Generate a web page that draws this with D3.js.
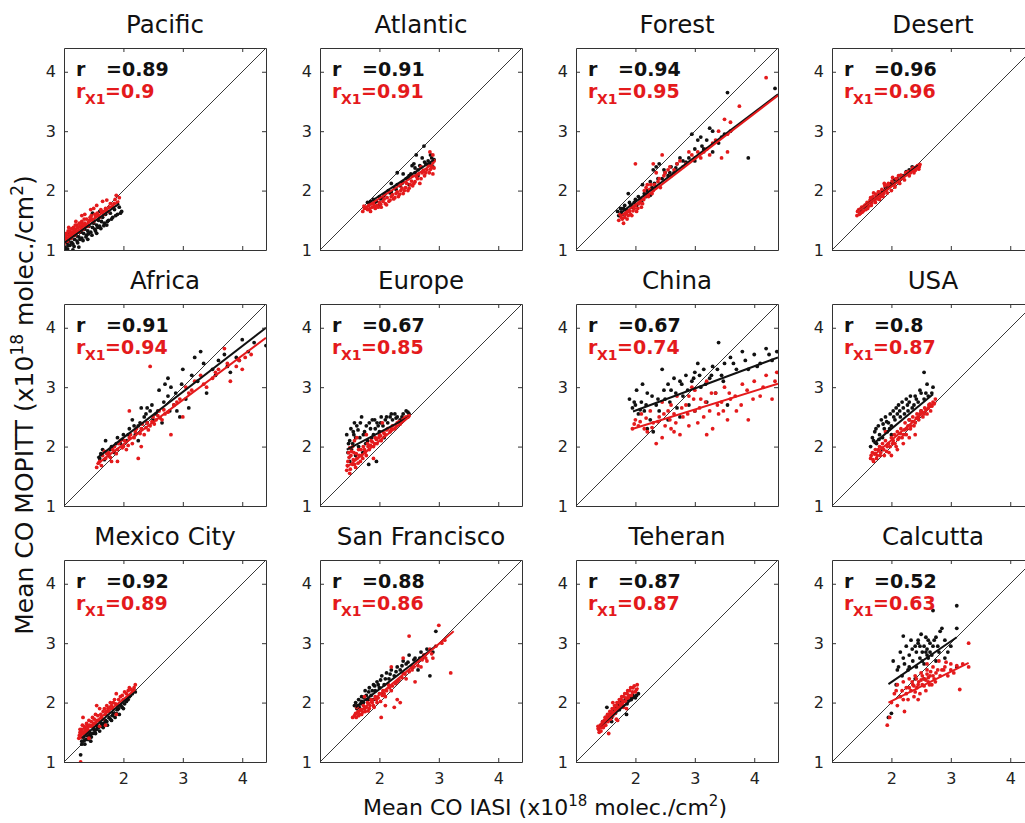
<!DOCTYPE html>
<html>
<head>
<meta charset="utf-8">
<script src="https://cdn.jsdelivr.net/npm/d3@7/dist/d3.min.js"></script>
<style>
  html, body { margin: 0; padding: 0; background: #fff; }
  svg { display: block; font-family: "DejaVu Sans", Verdana, sans-serif; }
</style>
</head>
<body>
<div id="chart"></div>
<script>
// ---------------- DATA ----------------
const regions = ["Pacific", "Atlantic", "Forest", "Desert",
                 "Africa", "Europe", "China", "USA",
                 "Mexico City", "San Francisco", "Teheran", "Calcutta"];
const rAll = ["0.89", "0.91", "0.94", "0.96", "0.91", "0.67", "0.67", "0.8", "0.92", "0.88", "0.87", "0.52"];
const rX1  = ["0.9", "0.91", "0.95", "0.96", "0.94", "0.85", "0.74", "0.87", "0.89", "0.86", "0.87", "0.63"];
const xTicks = [2, 3, 4];
const yTicks = [1, 2, 3, 4];
const axisDomain = [1, 4.4];

const pacificBlack = [[1.02,1.05],[1.05,1.12],[1.08,1.15],[1.1,1.08],[1.12,1.2],[1.15,1.1],[1.18,1.18],[1.2,1.25],[1.22,1.15],[1.25,1.22],[1.28,1.3],[1.3,1.2],[1.33,1.28],[1.35,1.35],[1.38,1.25],[1.4,1.32],[1.42,1.4],[1.45,1.3],[1.48,1.38],[1.5,1.45],[1.52,1.35],[1.55,1.42],[1.58,1.5],[1.6,1.4],[1.63,1.48],[1.65,1.55],[1.68,1.45],[1.7,1.6],[1.75,1.5],[1.78,1.62],[1.82,1.55],[1.85,1.68],[1.9,1.6],[1.95,1.62],[1.25,1.05],[1.4,1.18],[1.55,1.28],[1.72,1.42],[1.1,1.28],[1.3,1.4],[1.6,1.65],[1.48,1.62],
  [1.03,1.0],[1.07,1.08],[1.13,1.13],[1.17,1.06],[1.23,1.12],[1.27,1.18],[1.32,1.16],[1.37,1.22],[1.41,1.27],[1.47,1.25],[1.53,1.32],[1.57,1.38],[1.62,1.36],[1.67,1.41],[1.73,1.48],[1.8,1.52],[1.87,1.58],[1.93,1.72],[1.97,1.65],[1.15,1.0],[1.06,1.02]];
const pacificRed = [[1.0,1.1],[1.02,1.2],[1.04,1.28],[1.06,1.15],[1.08,1.25],[1.1,1.32],[1.12,1.2],[1.14,1.3],[1.16,1.38],[1.18,1.25],[1.2,1.35],[1.22,1.42],[1.25,1.3],[1.27,1.4],[1.3,1.48],[1.32,1.35],[1.35,1.45],[1.38,1.52],[1.4,1.4],[1.43,1.5],[1.46,1.58],[1.5,1.48],[1.53,1.56],[1.56,1.62],[1.6,1.55],[1.63,1.65],[1.67,1.6],[1.7,1.7],[1.74,1.65],[1.78,1.78],[1.82,1.72],[1.86,1.85],[1.9,1.8],[1.93,1.88],[1.35,1.6],[1.55,1.75],[1.45,1.68],[1.2,1.48],[1.08,1.38],[1.65,1.82],
  [1.01,1.14],[1.03,1.24],[1.05,1.19],[1.07,1.32],[1.09,1.22],[1.11,1.27],[1.13,1.36],[1.15,1.24],[1.17,1.33],[1.19,1.42],[1.21,1.29],[1.23,1.38],[1.26,1.45],[1.29,1.34],[1.31,1.43],[1.34,1.52],[1.37,1.4],[1.41,1.47],[1.44,1.55],[1.48,1.52],[1.52,1.6],[1.58,1.58],[1.62,1.68],[1.69,1.66],[1.76,1.72],[1.84,1.78],[1.88,1.92],[1.72,1.84],[1.5,1.7],[1.3,1.58]];

const atlanticBlack = [[1.8,1.8],[1.85,1.78],[1.9,1.85],[1.95,1.82],[2.0,1.9],[2.05,1.88],[2.1,1.95],[2.15,2.0],[2.2,1.98],[2.25,2.05],[2.3,2.1],[2.35,2.08],[2.4,2.15],[2.45,2.2],[2.5,2.25],[2.55,2.42],[2.58,2.45],[2.6,2.3],[2.65,2.35],[2.7,2.4],[2.75,2.75],[2.78,2.45],[2.82,2.5],[2.85,2.45],[2.88,2.55],[2.9,2.4],[2.3,2.3],[2.2,2.12],[2.4,2.28],[2.5,2.1],[2.65,2.25],[2.72,2.55],[2.0,1.75],[2.62,2.6],
  [1.85,1.82],[1.92,1.8],[2.02,1.86],[2.08,1.92],[2.18,1.96],[2.28,2.02],[2.38,2.12],[2.48,2.22],[2.53,2.28],[2.6,2.38],[2.68,2.42],[2.76,2.48],[2.86,2.6],[2.92,2.52]];
const atlanticRed = [[1.72,1.65],[1.75,1.7],[1.8,1.68],[1.82,1.75],[1.85,1.65],[1.88,1.72],[1.9,1.78],[1.93,1.7],[1.96,1.75],[2.0,1.8],[2.03,1.72],[2.06,1.82],[2.1,1.78],[2.13,1.88],[2.16,1.82],[2.2,1.9],[2.24,1.86],[2.28,1.95],[2.32,1.9],[2.36,2.0],[2.4,1.95],[2.44,2.05],[2.48,2.0],[2.52,2.1],[2.56,2.08],[2.6,2.15],[2.64,2.2],[2.68,2.12],[2.72,2.3],[2.76,2.25],[2.8,2.35],[2.84,2.3],[2.88,2.4],[2.9,2.28],[2.92,2.5],[2.9,2.6],[2.85,2.65],[2.7,2.4],[2.55,2.25],[2.35,2.1],
  [1.74,1.74],[1.78,1.72],[1.84,1.7],[1.87,1.78],[1.92,1.74],[1.98,1.72],[2.02,1.77],[2.08,1.86],[2.12,1.76],[2.18,1.84],[2.22,1.93],[2.26,1.88],[2.3,1.98],[2.34,1.94],[2.38,2.04],[2.42,2.0],[2.46,2.12],[2.5,2.04],[2.54,2.16],[2.58,2.12],[2.62,2.24],[2.66,2.28],[2.7,2.2],[2.74,2.34],[2.78,2.3],[2.82,2.42],[2.86,2.36],[2.92,2.38],[2.9,2.48]];

const forestBlack = [[1.7,1.65],[1.75,1.7],[1.78,1.6],[1.82,1.75],[1.85,1.68],[1.9,1.8],[1.95,1.72],[2.0,1.85],[2.05,1.9],[2.1,1.82],[2.15,1.95],[2.2,2.0],[2.25,1.92],[2.3,2.35],[2.35,2.4],[2.4,2.45],[2.45,2.2],[2.5,2.3],[2.55,2.25],[2.6,2.4],[2.65,2.3],[2.7,2.45],[2.8,2.5],[2.9,2.55],[2.95,2.95],[3.0,2.5],[3.05,2.85],[3.1,2.9],[3.15,2.7],[3.2,2.85],[3.25,3.05],[3.3,2.65],[3.4,2.8],[3.5,2.95],[3.55,3.65],[3.9,2.55],[4.35,3.72],[2.12,2.1],[1.88,1.95],[2.25,2.15],
  [1.72,1.58],[1.76,1.64],[1.8,1.7],[1.84,1.62],[1.92,1.76],[1.98,1.8],[2.02,1.75],[2.08,1.86],[2.18,1.9],[2.28,2.05],[2.32,2.12],[2.38,2.2],[2.48,2.35],[2.58,2.3],[2.68,2.38],[2.75,2.55],[2.85,2.48],[3.0,2.7],[3.12,2.75],[3.3,3.0],[3.45,2.9],[3.6,3.0]];
const forestRed = [[1.72,1.5],[1.76,1.55],[1.8,1.45],[1.83,1.6],[1.86,1.52],[1.9,1.65],[1.94,1.58],[1.98,1.7],[2.02,1.65],[2.06,1.78],[2.1,1.72],[2.14,1.85],[2.18,2.05],[2.22,1.9],[2.26,2.1],[2.3,2.0],[2.35,2.05],[2.4,2.2],[2.45,2.6],[2.5,2.3],[2.55,2.35],[2.6,2.25],[2.7,2.45],[2.8,2.4],[2.9,2.65],[2.95,2.6],[3.05,2.65],[3.1,2.55],[3.2,2.7],[3.3,2.8],[3.4,3.0],[3.45,2.55],[3.5,3.2],[3.55,2.65],[3.75,3.42],[4.2,3.9],[2.0,2.45],[2.35,2.3],[2.15,2.0],
  [1.74,1.6],[1.78,1.52],[1.82,1.55],[1.85,1.62],[1.88,1.58],[1.92,1.6],[1.96,1.66],[2.0,1.75],[2.04,1.7],[2.08,1.8],[2.12,1.78],[2.16,1.9],[2.2,1.95],[2.24,2.02],[2.28,1.95],[2.32,2.1],[2.38,2.15],[2.42,2.05],[2.48,2.25],[2.58,2.4],[2.65,2.35],[2.75,2.5],[2.85,2.45],[3.0,2.55],[3.15,2.65],[3.25,2.6],[3.35,2.85],[3.55,2.95],[3.6,3.15],[2.3,2.45],[2.2,2.1]];

const desertBlack = [[1.5,1.65],[1.6,1.75],[1.7,1.85],[1.8,1.95],[1.9,2.05],[2.0,2.12],[2.1,2.2],[2.2,2.25],[2.3,2.35],[2.4,2.38],[2.45,2.42],[2.05,2.18],
  [1.55,1.72],[1.65,1.8],[1.75,1.92],[1.85,2.0],[1.95,2.08],[2.15,2.25],[2.25,2.32],[2.35,2.4]];
const desertRed = [[1.42,1.58],[1.45,1.68],[1.48,1.62],[1.5,1.72],[1.53,1.66],[1.56,1.76],[1.6,1.7],[1.63,1.8],[1.66,1.75],[1.7,1.85],[1.73,1.8],[1.76,1.9],[1.8,1.85],[1.83,1.95],[1.86,1.9],[1.9,2.0],[1.93,1.96],[1.96,2.05],[2.0,2.0],[2.03,2.1],[2.06,2.06],[2.1,2.15],[2.14,2.12],[2.18,2.22],[2.22,2.18],[2.26,2.28],[2.3,2.25],[2.34,2.35],[2.38,2.3],[2.42,2.4],[2.46,2.36],[2.48,2.44],[1.65,1.88],[1.78,1.98],[1.95,2.12],[2.12,2.25],
  [1.43,1.65],[1.46,1.6],[1.49,1.7],[1.51,1.64],[1.54,1.74],[1.57,1.68],[1.59,1.8],[1.62,1.74],[1.64,1.84],[1.67,1.79],[1.69,1.9],[1.72,1.84],[1.74,1.94],[1.77,1.86],[1.79,1.98],[1.82,1.9],[1.84,2.02],[1.87,1.95],[1.89,2.08],[1.92,2.02],[1.94,2.1],[1.98,2.08],[2.01,2.16],[2.05,2.12],[2.08,2.2],[2.11,2.18],[2.16,2.26],[2.2,2.24],[2.24,2.3],[2.28,2.32],[2.32,2.3],[2.36,2.38],[2.4,2.34],[2.44,2.42],[2.47,2.4],[2.02,2.22],[1.88,2.12],[1.7,1.96]];

const africaBlack = [[1.6,1.8],[1.65,1.95],[1.7,2.1],[1.75,1.85],[1.8,2.0],[1.85,1.9],[1.9,2.15],[1.95,2.05],[2.0,2.2],[2.05,2.1],[2.1,2.3],[2.15,2.45],[2.2,2.2],[2.25,2.35],[2.3,2.65],[2.35,2.5],[2.4,2.4],[2.45,2.6],[2.5,2.45],[2.55,2.55],[2.6,2.95],[2.65,2.4],[2.7,3.05],[2.75,3.15],[2.8,3.0],[2.85,2.7],[2.9,2.6],[2.95,2.5],[3.0,3.3],[3.05,2.8],[3.1,2.65],[3.2,3.5],[3.25,3.1],[3.3,3.6],[3.4,2.9],[3.5,3.3],[3.6,3.45],[3.7,3.55],[3.8,3.25],[3.9,3.5],[4.0,3.8],[4.1,3.6],[4.4,3.7],[2.4,2.65],[2.75,2.85],[2.25,2.1],
  [1.62,1.88],[1.68,1.78],[1.78,1.95],[1.88,2.05],[1.98,2.12],[2.08,2.2],[2.18,2.35],[2.28,2.4],[2.38,2.55],[2.48,2.7],[2.58,2.6],[2.68,2.75],[2.78,2.6],[2.88,2.9],[2.98,3.05],[3.15,3.2],[3.35,3.4],[3.55,3.2],[3.75,3.35],[3.95,3.45],[4.2,3.75]];
const africaRed = [[1.55,1.65],[1.6,1.75],[1.65,1.85],[1.7,1.8],[1.75,1.9],[1.8,1.75],[1.85,2.0],[1.9,1.95],[1.95,2.1],[2.0,2.0],[2.05,1.95],[2.1,2.15],[2.15,2.05],[2.2,2.25],[2.25,1.8],[2.3,2.3],[2.35,2.2],[2.4,2.4],[2.45,2.35],[2.5,2.5],[2.55,2.45],[2.6,2.6],[2.65,2.45],[2.7,2.55],[2.8,2.2],[2.85,2.7],[2.9,2.75],[3.0,2.5],[3.05,3.0],[3.1,2.9],[3.2,3.1],[3.3,3.2],[3.4,3.0],[3.5,3.15],[3.6,3.3],[3.7,3.65],[3.8,3.1],[3.9,3.35],[4.0,3.3],[4.15,3.55],[2.1,2.6],[2.45,3.35],[1.9,1.75],[2.3,2.0],
  [1.58,1.72],[1.63,1.68],[1.68,1.92],[1.72,1.88],[1.78,1.82],[1.82,1.95],[1.88,1.88],[1.92,2.05],[1.98,1.98],[2.02,2.1],[2.08,2.02],[2.12,2.2],[2.18,2.15],[2.22,2.3],[2.28,2.22],[2.32,2.38],[2.38,2.32],[2.42,2.28],[2.48,2.42],[2.52,2.38],[2.58,2.52],[2.62,2.48],[2.68,2.62],[2.75,2.58],[2.95,2.8],[3.15,2.95],[3.35,3.05],[3.55,3.25],[3.75,3.4],[3.95,3.45],[4.05,3.5]];

const europeBlack = [[1.45,2.2],[1.47,1.9],[1.5,2.1],[1.5,1.75],[1.52,2.3],[1.55,2.05],[1.57,2.2],[1.6,1.85],[1.62,2.35],[1.65,2.0],[1.67,2.15],[1.7,2.5],[1.72,1.9],[1.75,2.25],[1.78,2.35],[1.8,2.1],[1.82,1.7],[1.85,2.3],[1.88,2.45],[1.9,2.2],[1.93,2.3],[1.96,2.4],[2.0,2.25],[2.03,2.5],[2.06,2.35],[2.1,2.45],[2.14,2.4],[2.18,2.5],[2.22,2.45],[2.26,2.55],[2.3,2.5],[2.35,2.45],[2.4,2.55],[2.45,2.6],[2.5,2.55],[1.95,1.75],[1.58,2.4],[2.08,2.15],
  [1.48,2.05],[1.53,1.95],[1.56,2.25],[1.6,2.15],[1.64,2.28],[1.68,2.4],[1.73,2.2],[1.77,2.05],[1.83,2.4],[1.87,2.15],[1.92,2.45],[1.98,2.35],[2.02,2.4],[2.12,2.5],[2.2,2.55],[2.28,2.48],[2.38,2.5],[2.48,2.58]];
const europeRed = [[1.45,1.6],[1.47,1.75],[1.5,1.55],[1.52,1.85],[1.55,1.7],[1.57,1.9],[1.6,1.65],[1.62,1.8],[1.65,1.95],[1.68,1.75],[1.7,1.85],[1.73,2.0],[1.76,1.9],[1.8,2.05],[1.83,1.95],[1.86,2.1],[1.9,2.0],[1.93,2.15],[1.96,2.05],[2.0,2.2],[2.03,2.1],[2.06,2.25],[2.1,2.2],[2.14,2.3],[2.18,2.25],[2.22,2.35],[2.26,2.3],[2.3,2.4],[2.35,2.38],[2.4,2.45],[2.45,2.5],[2.5,2.52],[1.55,2.0],[1.48,1.9],[1.62,2.15],[1.78,2.2],[1.9,1.8],[2.05,2.4],
  [1.46,1.68],[1.49,1.82],[1.51,1.62],[1.53,1.92],[1.56,1.78],[1.58,1.7],[1.61,1.88],[1.64,1.72],[1.66,1.85],[1.69,1.95],[1.72,1.8],[1.75,1.95],[1.78,1.85],[1.81,2.0],[1.85,2.02],[1.88,2.08],[1.92,2.05],[1.95,2.12],[1.99,2.15],[2.02,2.18],[2.08,2.22],[2.12,2.28],[2.2,2.3],[2.28,2.35],[2.33,2.42],[2.42,2.48],[2.48,2.5],[1.5,1.98],[1.58,2.1]];

const chinaBlack = [[1.9,2.8],[1.95,2.65],[2.0,2.7],[2.02,2.95],[2.05,2.55],[2.1,2.75],[2.12,3.05],[2.15,2.6],[2.2,2.9],[2.25,2.45],[2.3,2.25],[2.35,2.7],[2.4,2.6],[2.45,3.3],[2.5,2.8],[2.55,2.45],[2.6,2.95],[2.65,3.15],[2.7,2.65],[2.75,3.1],[2.8,2.85],[2.85,3.2],[2.9,2.7],[2.95,3.1],[3.0,2.6],[3.05,3.4],[3.1,3.0],[3.15,3.3],[3.2,2.75],[3.25,3.15],[3.3,3.35],[3.35,2.9],[3.4,3.75],[3.45,3.2],[3.5,3.4],[3.55,2.7],[3.6,3.5],[3.7,3.3],[3.8,3.6],[3.9,3.3],[4.0,3.55],[4.1,3.4],[4.2,3.65],[4.3,3.45],[2.55,3.05],[2.75,2.5],[3.0,3.25],[2.2,2.3],
  [1.98,2.75],[2.08,2.62],[2.18,2.7],[2.28,2.85],[2.38,2.8],[2.48,2.95],[2.58,2.75],[2.68,2.9],[2.78,3.05],[2.88,2.95],[2.98,3.15],[3.08,3.2],[3.18,3.05],[3.28,3.2],[3.38,3.3],[3.48,3.1],[3.65,3.4],[3.85,3.45],[4.05,3.35],[4.25,3.55],[4.38,3.6]];
const chinaRed = [[1.95,2.3],[2.0,2.45],[2.05,2.35],[2.1,2.55],[2.15,2.3],[2.2,2.25],[2.25,2.6],[2.3,2.4],[2.35,2.05],[2.4,2.5],[2.45,2.75],[2.5,2.35],[2.55,2.6],[2.6,2.3],[2.65,2.55],[2.7,2.85],[2.75,2.2],[2.8,2.5],[2.85,2.7],[2.9,2.35],[2.95,3.0],[3.0,2.6],[3.05,2.4],[3.1,2.8],[3.15,2.5],[3.2,3.1],[3.25,2.6],[3.3,2.3],[3.35,2.9],[3.4,2.55],[3.45,2.75],[3.5,3.0],[3.55,2.45],[3.6,2.8],[3.7,2.6],[3.8,3.05],[3.9,2.45],[4.0,3.1],[4.1,2.85],[4.2,3.2],[4.3,2.8],[4.38,3.25],[2.6,2.7],[3.0,2.95],[3.2,2.2],[2.45,2.15],
  [1.98,2.38],[2.08,2.42],[2.18,2.48],[2.28,2.32],[2.38,2.42],[2.48,2.55],[2.58,2.45],[2.68,2.4],[2.78,2.65],[2.88,2.55],[2.98,2.8],[3.08,2.65],[3.18,2.75],[3.28,2.9],[3.38,2.7],[3.48,2.6],[3.58,2.9],[3.68,2.85],[3.78,2.7],[3.88,2.95],[3.98,2.8],[4.15,3.0],[4.35,3.1],[2.65,2.25],[2.9,2.85]];

const usaBlack = [[1.65,2.0],[1.7,2.1],[1.72,2.25],[1.75,2.05],[1.78,2.35],[1.8,2.2],[1.83,2.45],[1.85,2.15],[1.88,2.3],[1.9,2.5],[1.93,2.25],[1.95,2.4],[1.98,2.55],[2.0,2.35],[2.03,2.6],[2.06,2.45],[2.1,2.55],[2.12,2.7],[2.15,2.5],[2.2,2.65],[2.25,2.8],[2.28,2.6],[2.3,2.75],[2.35,2.65],[2.4,2.85],[2.45,2.75],[2.5,2.9],[2.55,2.8],[2.6,3.05],[2.62,2.85],[2.65,2.7],[2.7,3.0],[2.55,3.25],[2.5,2.6],[2.3,2.45],[1.85,1.95],[2.0,2.2],
  [1.68,2.15],[1.74,2.3],[1.79,2.12],[1.86,2.38],[1.92,2.42],[1.97,2.3],[2.04,2.5],[2.08,2.65],[2.14,2.6],[2.18,2.75],[2.22,2.55],[2.27,2.7],[2.32,2.85],[2.38,2.7],[2.42,2.8],[2.48,2.95],[2.58,2.9],[2.68,2.9]];
const usaRed = [[1.65,1.8],[1.68,1.9],[1.7,1.75],[1.73,1.95],[1.76,1.85],[1.8,2.0],[1.82,1.9],[1.85,2.05],[1.88,1.85],[1.9,2.1],[1.93,2.0],[1.96,1.9],[2.0,2.15],[2.02,2.05],[2.05,2.2],[2.08,2.0],[2.1,2.25],[2.13,2.15],[2.16,2.3],[2.2,2.2],[2.23,2.4],[2.26,2.3],[2.3,2.45],[2.33,2.35],[2.36,2.5],[2.4,2.4],[2.43,2.55],[2.46,2.45],[2.5,2.6],[2.53,2.5],[2.56,2.65],[2.6,2.55],[2.63,2.7],[2.66,2.6],[2.7,2.75],[2.74,2.8],[2.0,1.85],[2.2,2.05],[1.9,2.25],[2.4,2.2],
  [1.66,1.85],[1.69,1.78],[1.72,1.88],[1.75,1.8],[1.78,1.95],[1.81,1.85],[1.84,1.98],[1.87,1.95],[1.92,1.92],[1.95,2.05],[1.98,2.0],[2.03,2.1],[2.06,2.05],[2.11,2.12],[2.15,2.22],[2.18,2.15],[2.22,2.28],[2.25,2.2],[2.28,2.35],[2.32,2.3],[2.35,2.42],[2.38,2.35],[2.42,2.48],[2.45,2.5],[2.48,2.55],[2.52,2.58],[2.55,2.55],[2.58,2.62],[2.62,2.65],[2.65,2.72],[2.68,2.68],[2.72,2.72],[2.1,1.95],[2.3,2.15]];

const mexicoBlack = [[1.28,1.12],[1.3,1.35],[1.33,1.42],[1.35,1.3],[1.38,1.45],[1.4,1.38],[1.43,1.5],[1.46,1.42],[1.5,1.55],[1.53,1.48],[1.56,1.6],[1.6,1.52],[1.63,1.65],[1.66,1.58],[1.7,1.7],[1.73,1.62],[1.76,1.75],[1.8,1.7],[1.83,1.82],[1.86,1.75],[1.9,1.88],[1.93,1.8],[1.96,1.95],[2.0,1.9],[2.05,2.02],[2.1,2.1],[2.15,2.15],[2.18,2.2],[1.45,1.35],[1.7,1.8],
  [1.3,1.3],[1.34,1.36],[1.37,1.38],[1.41,1.44],[1.44,1.45],[1.48,1.48],[1.52,1.52],[1.55,1.55],[1.58,1.58],[1.62,1.6],[1.65,1.62],[1.68,1.66],[1.72,1.68],[1.78,1.72],[1.82,1.78],[1.88,1.82],[1.92,1.9],[1.98,1.92],[2.02,1.98],[2.08,2.05],[2.12,2.12],[2.2,2.18]];
const mexicoRed = [[1.28,1.0],[1.25,1.4],[1.27,1.5],[1.28,1.45],[1.3,1.55],[1.32,1.48],[1.34,1.6],[1.36,1.52],[1.38,1.65],[1.4,1.55],[1.42,1.7],[1.45,1.6],[1.48,1.75],[1.5,1.65],[1.53,1.8],[1.56,1.7],[1.6,1.9],[1.63,1.75],[1.66,1.85],[1.7,1.8],[1.72,1.95],[1.75,1.85],[1.78,2.0],[1.82,1.9],[1.85,2.05],[1.88,2.15],[1.9,1.95],[1.95,2.1],[2.0,2.05],[2.05,2.15],[2.1,2.25],[2.15,2.2],[2.2,2.3],[1.32,1.75],[1.55,1.95],[1.42,1.4],[1.6,1.6],
  [1.26,1.45],[1.27,1.55],[1.29,1.42],[1.3,1.5],[1.31,1.62],[1.33,1.5],[1.35,1.57],[1.37,1.48],[1.39,1.6],[1.41,1.52],[1.43,1.62],[1.46,1.68],[1.49,1.6],[1.51,1.72],[1.54,1.65],[1.57,1.78],[1.59,1.7],[1.62,1.8],[1.65,1.72],[1.68,1.9],[1.71,1.85],[1.74,1.9],[1.77,1.92],[1.8,1.95],[1.83,2.0],[1.87,1.98],[1.92,2.05],[1.98,2.12],[2.02,2.18],[2.08,2.2],[2.13,2.22],[2.18,2.25],[1.88,1.8],[1.7,1.62]];

const sanfranBlack = [[1.58,1.95],[1.62,1.9],[1.65,2.05],[1.68,1.98],[1.7,2.1],[1.73,2.0],[1.76,2.2],[1.8,2.05],[1.83,2.25],[1.86,2.12],[1.9,2.3],[1.93,2.2],[1.96,2.35],[2.0,2.25],[2.04,2.45],[2.08,2.3],[2.12,2.5],[2.16,2.4],[2.2,2.55],[2.25,2.45],[2.3,2.6],[2.35,2.55],[2.4,2.7],[2.45,2.65],[2.5,2.8],[2.55,2.6],[2.6,2.75],[2.65,2.55],[2.7,2.85],[2.8,2.9],[2.85,2.45],[2.95,3.2],[2.9,2.85],[1.9,2.05],[2.05,2.15],
  [1.6,2.0],[1.63,1.95],[1.66,1.92],[1.7,2.02],[1.74,2.08],[1.78,2.12],[1.82,2.18],[1.85,2.05],[1.88,2.2],[1.92,2.28],[1.98,2.3],[2.02,2.38],[2.1,2.4],[2.18,2.48],[2.28,2.52],[2.38,2.62],[2.48,2.68],[2.58,2.72],[2.68,2.75],[2.75,2.8]];
const sanfranRed = [[1.55,1.75],[1.6,1.82],[1.62,1.92],[1.65,1.78],[1.68,1.88],[1.7,1.8],[1.73,1.95],[1.76,1.85],[1.8,2.0],[1.83,1.9],[1.86,2.05],[1.9,1.95],[1.93,2.1],[1.96,2.0],[2.0,2.15],[2.03,1.75],[2.06,2.2],[2.1,2.1],[2.15,2.3],[2.2,2.2],[2.25,1.92],[2.3,2.35],[2.35,2.0],[2.4,2.5],[2.45,2.4],[2.5,3.12],[2.55,2.55],[2.6,2.35],[2.65,2.7],[2.7,2.6],[2.75,2.8],[2.8,2.7],[2.85,2.9],[2.9,2.75],[3.0,3.3],[3.05,3.0],[3.2,2.5],[2.2,2.6],[2.4,2.75],[1.75,2.1],
  [1.58,1.78],[1.61,1.75],[1.64,1.85],[1.67,1.8],[1.7,1.88],[1.72,1.84],[1.75,1.9],[1.78,1.92],[1.81,1.86],[1.84,1.95],[1.88,2.0],[1.91,1.92],[1.95,2.05],[1.98,2.08],[2.02,2.02],[2.05,2.12],[2.08,2.15],[2.12,2.2],[2.17,2.25],[2.22,2.28],[2.27,2.32],[2.33,2.38],[2.38,2.42],[2.43,2.48],[2.5,2.52],[2.58,2.6],[2.65,2.62],[2.72,2.72],[2.78,2.75],[2.88,2.82],[2.95,2.95],[3.1,3.05],[2.1,1.95],[2.3,2.05]];

const teheranBlack = [[1.42,1.6],[1.45,1.68],[1.48,1.62],[1.5,1.75],[1.52,1.92],[1.55,1.72],[1.58,1.8],[1.6,1.75],[1.63,1.88],[1.66,1.82],[1.7,1.95],[1.73,1.88],[1.76,2.0],[1.8,1.95],[1.83,2.05],[1.86,1.98],[1.9,2.1],[1.93,2.05],[1.96,2.12],[2.0,2.08],[2.05,2.15],[1.85,1.8],
  [1.44,1.62],[1.5,1.68],[1.56,1.78],[1.62,1.82],[1.68,1.9],[1.74,1.95],[1.78,2.02],[1.84,2.02],[1.88,2.05],[1.95,2.1],[2.02,2.12],[1.6,1.68]];
const teheranRed = [[1.38,1.55],[1.4,1.6],[1.42,1.52],[1.44,1.65],[1.46,1.58],[1.48,1.7],[1.5,1.62],[1.52,1.75],[1.54,1.68],[1.56,1.8],[1.58,1.72],[1.6,1.85],[1.62,1.78],[1.64,1.9],[1.66,1.82],[1.68,1.95],[1.7,1.88],[1.72,2.0],[1.74,1.92],[1.76,2.05],[1.78,1.98],[1.8,2.1],[1.83,2.02],[1.86,2.15],[1.88,2.08],[1.9,2.2],[1.93,2.12],[1.96,2.25],[2.0,2.18],[2.03,2.3],[1.55,1.48],[1.7,1.7],[1.85,1.9],[1.62,2.0],
  [1.37,1.6],[1.39,1.5],[1.41,1.62],[1.43,1.58],[1.45,1.68],[1.47,1.62],[1.49,1.75],[1.51,1.68],[1.53,1.8],[1.55,1.72],[1.57,1.85],[1.59,1.78],[1.61,1.9],[1.63,1.82],[1.65,1.95],[1.67,1.88],[1.69,2.0],[1.71,1.92],[1.73,2.05],[1.75,1.98],[1.77,2.1],[1.79,2.02],[1.82,2.15],[1.84,2.08],[1.87,2.2],[1.89,2.12],[1.92,2.25],[1.95,2.18],[1.98,2.28],[2.02,2.22],[1.68,1.72],[1.8,1.92]];

const calcuttaBlack = [[1.95,1.75],[2.0,1.82],[2.03,2.7],[2.08,2.3],[2.12,2.6],[2.15,2.85],[2.18,2.45],[2.2,3.12],[2.22,2.65],[2.25,2.95],[2.28,2.55],[2.3,2.8],[2.33,3.05],[2.36,2.7],[2.4,2.95],[2.42,2.6],[2.45,3.0],[2.48,2.75],[2.5,3.15],[2.52,2.85],[2.55,2.65],[2.58,3.1],[2.6,2.9],[2.62,2.75],[2.65,3.0],[2.68,2.8],[2.7,3.55],[2.72,3.05],[2.75,2.7],[2.78,2.95],[2.82,3.2],[2.85,3.25],[2.9,2.75],[3.0,2.95],[3.1,2.6],[3.1,3.25],[3.1,3.63],[2.4,2.4],[2.55,2.4],
  [2.1,2.55],[2.2,2.75],[2.3,2.6],[2.35,2.9],[2.42,2.85],[2.48,2.95],[2.52,2.7],[2.55,2.95],[2.58,2.85],[2.6,2.8],[2.62,3.05],[2.65,2.85],[2.7,2.95],[2.75,3.1],[2.8,2.85],[2.9,3.05],[2.95,2.85],[2.45,3.05]];
const calcuttaRed = [[1.93,1.62],[1.97,1.75],[2.0,2.0],[2.05,2.15],[2.1,2.3],[2.15,2.1],[2.2,2.35],[2.22,1.85],[2.25,2.25],[2.28,2.05],[2.3,2.4],[2.33,2.2],[2.36,2.3],[2.38,2.1],[2.4,2.45],[2.43,2.25],[2.46,2.35],[2.48,2.15],[2.5,2.5],[2.52,2.3],[2.55,2.4],[2.58,2.2],[2.6,2.55],[2.62,2.35],[2.65,2.45],[2.68,2.3],[2.7,2.6],[2.72,2.4],[2.75,2.5],[2.8,2.7],[2.85,2.55],[2.9,2.6],[2.95,2.45],[3.0,2.65],[3.05,2.5],[3.15,2.22],[3.3,3.0],[3.3,2.6],[2.45,2.05],[2.6,2.65],
  [2.08,2.2],[2.18,2.2],[2.25,2.15],[2.3,2.25],[2.35,2.35],[2.38,2.28],[2.42,2.4],[2.45,2.3],[2.5,2.38],[2.52,2.45],[2.55,2.28],[2.58,2.38],[2.6,2.48],[2.62,2.42],[2.64,2.3],[2.66,2.52],[2.7,2.45],[2.74,2.35],[2.78,2.55],[2.82,2.45],[2.88,2.55],[2.92,2.68],[3.0,2.55],[3.1,2.62],[3.2,2.65],[2.4,2.18],[2.2,2.05],[2.1,1.95]];

const blackSeries = [pacificBlack, atlanticBlack, forestBlack, desertBlack, africaBlack, europeBlack, chinaBlack, usaBlack, mexicoBlack, sanfranBlack, teheranBlack, calcuttaBlack];
const redSeries   = [pacificRed, atlanticRed, forestRed, desertRed, africaRed, europeRed, chinaRed, usaRed, mexicoRed, sanfranRed, teheranRed, calcuttaRed];

// regression lines: [[x1,y1],[x2,y2]]
const fitBlack = [[[1.0,1.12],[1.93,1.78]], [[1.83,1.8],[2.92,2.52]], [[1.75,1.62],[4.4,3.62]], [[1.45,1.66],[2.45,2.42]],
                  [[1.56,1.81],[4.4,4.0]], [[1.45,1.95],[2.5,2.5]], [[1.96,2.59],[4.4,3.5]], [[1.7,2.05],[2.7,2.88]],
                  [[1.3,1.4],[2.2,2.2]], [[1.6,1.92],[2.96,2.96]], [[1.4,1.6],[2.05,2.15]], [[1.95,2.31],[3.1,3.1]]];
const fitRed   = [[[1.0,1.16],[1.93,1.83]], [[1.83,1.76],[2.92,2.46]], [[1.75,1.57],[4.4,3.6]], [[1.42,1.64],[2.48,2.42]],
                  [[1.55,1.7],[4.4,3.83]], [[1.45,1.65],[2.5,2.5]], [[1.96,2.3],[4.4,3.06]], [[1.7,1.85],[2.75,2.75]],
                  [[1.25,1.45],[2.2,2.22]], [[1.55,1.75],[3.25,3.2]], [[1.35,1.55],[2.05,2.25]], [[1.95,2.0],[3.3,2.67]]];

// ---------------- LAYOUT ----------------
const W = 1025, H = 823;
const size = 202;
const colLeft = [64, 320, 576, 832];
const rowTop = [48, 304, 560];
const RED = "#e41a1c", BLACK = "#111";

const svg = d3.select("#chart").append("svg").attr("width", W).attr("height", H);
svg.append("rect").attr("width", W).attr("height", H).attr("fill", "#fff");

const x = d3.scaleLinear().domain(axisDomain).range([0, size]);
const y = d3.scaleLinear().domain(axisDomain).range([size, 0]);
const line = d3.line().x(d => x(d[0])).y(d => y(d[1]));

regions.forEach((name, i) => {
  const row = Math.floor(i / 4), col = i % 4;
  const g = svg.append("g").attr("transform", `translate(${colLeft[col]},${rowTop[row]})`);

  const clipId = "clip" + i;
  g.append("clipPath").attr("id", clipId).append("rect").attr("width", size).attr("height", size);

  // title
  g.append("text").attr("x", size / 2).attr("y", -15).attr("text-anchor", "middle")
    .attr("font-size", 24.5).attr("fill", "#111").text(name);

  const plot = g.append("g").attr("clip-path", `url(#${clipId})`);

  // 1:1 line
  plot.append("path").datum(axisDomain.map(v => [v, v])).attr("d", line)
    .attr("stroke", "#222").attr("stroke-width", 0.9).attr("fill", "none");

  plot.append("g").selectAll("circle").data(blackSeries[i]).join("circle")
    .attr("cx", d => x(d[0])).attr("cy", d => y(d[1])).attr("r", 1.9).attr("fill", BLACK);
  plot.append("g").selectAll("circle").data(redSeries[i]).join("circle")
    .attr("cx", d => x(d[0])).attr("cy", d => y(d[1])).attr("r", 1.9).attr("fill", RED);

  plot.append("path").datum(fitBlack[i]).attr("d", line)
    .attr("stroke", BLACK).attr("stroke-width", 2).attr("fill", "none");
  plot.append("path").datum(fitRed[i]).attr("d", line)
    .attr("stroke", RED).attr("stroke-width", 2).attr("fill", "none");

  // axes (inside ticks, box)
  const axB = g.append("g").attr("transform", `translate(0,${size})`)
    .call(d3.axisBottom(x).tickValues(xTicks).tickSizeInner(-4).tickSizeOuter(0)
      .tickFormat(row === 2 ? d3.format("d") : () => ""));
  const axT = g.append("g")
    .call(d3.axisTop(x).tickValues(xTicks).tickSizeInner(-4).tickSizeOuter(0).tickFormat(() => ""));
  const axL = g.append("g")
    .call(d3.axisLeft(y).tickValues(yTicks).tickSizeInner(-4).tickSizeOuter(0).tickFormat(d3.format("d")));
  const axR = g.append("g").attr("transform", `translate(${size},0)`)
    .call(d3.axisRight(y).tickValues(yTicks).tickSizeInner(-4).tickSizeOuter(0).tickFormat(() => ""));
  [axB, axT, axL, axR].forEach(a => {
    a.select(".domain").attr("stroke", "#333").attr("stroke-width", 1);
    a.selectAll(".tick line").attr("stroke", "#333");
    a.selectAll(".tick text").attr("font-size", 16).attr("fill", "#222")
      .attr("font-family", "DejaVu Sans, Verdana, sans-serif");
  });
  axL.selectAll(".tick text").attr("x", -8);
  axB.selectAll(".tick text").attr("y", 11);

  // correlation text
  const t1 = g.append("text").attr("y", 28).attr("font-size", 19).attr("font-weight", "bold").attr("fill", BLACK);
  t1.append("tspan").attr("x", 12).text("r");
  t1.append("tspan").attr("x", 42).text("=" + rAll[i]);
  const t2 = g.append("text").attr("y", 50).attr("font-size", 19).attr("font-weight", "bold").attr("fill", RED);
  t2.append("tspan").attr("x", 12).text("r");
  t2.append("tspan").attr("x", 21).attr("dy", 6).attr("font-size", 14).text("X1");
  t2.append("tspan").attr("x", 41).attr("dy", -6).text("=" + rX1[i]);
});

// axis labels
const yl = svg.append("text").attr("transform", `translate(33,${(rowTop[0] + rowTop[2] + size) / 2}) rotate(-90)`)
  .attr("text-anchor", "middle").attr("font-size", 25).attr("fill", "#111");
yl.append("tspan").text("Mean CO MOPITT (x10");
yl.append("tspan").attr("dy", -10).attr("font-size", 17).text("18");
yl.append("tspan").attr("dy", 10).text(" molec./cm");
yl.append("tspan").attr("dy", -10).attr("font-size", 17).text("2");
yl.append("tspan").attr("dy", 10).text(")");

const xl = svg.append("text").attr("x", 545).attr("y", 815)
  .attr("text-anchor", "middle").attr("font-size", 22).attr("fill", "#111");
xl.append("tspan").text("Mean CO IASI (x10");
xl.append("tspan").attr("dy", -9).attr("font-size", 15).text("18");
xl.append("tspan").attr("dy", 9).text(" molec./cm");
xl.append("tspan").attr("dy", -9).attr("font-size", 15).text("2");
xl.append("tspan").attr("dy", 9).text(")");
</script>
</body>
</html>
